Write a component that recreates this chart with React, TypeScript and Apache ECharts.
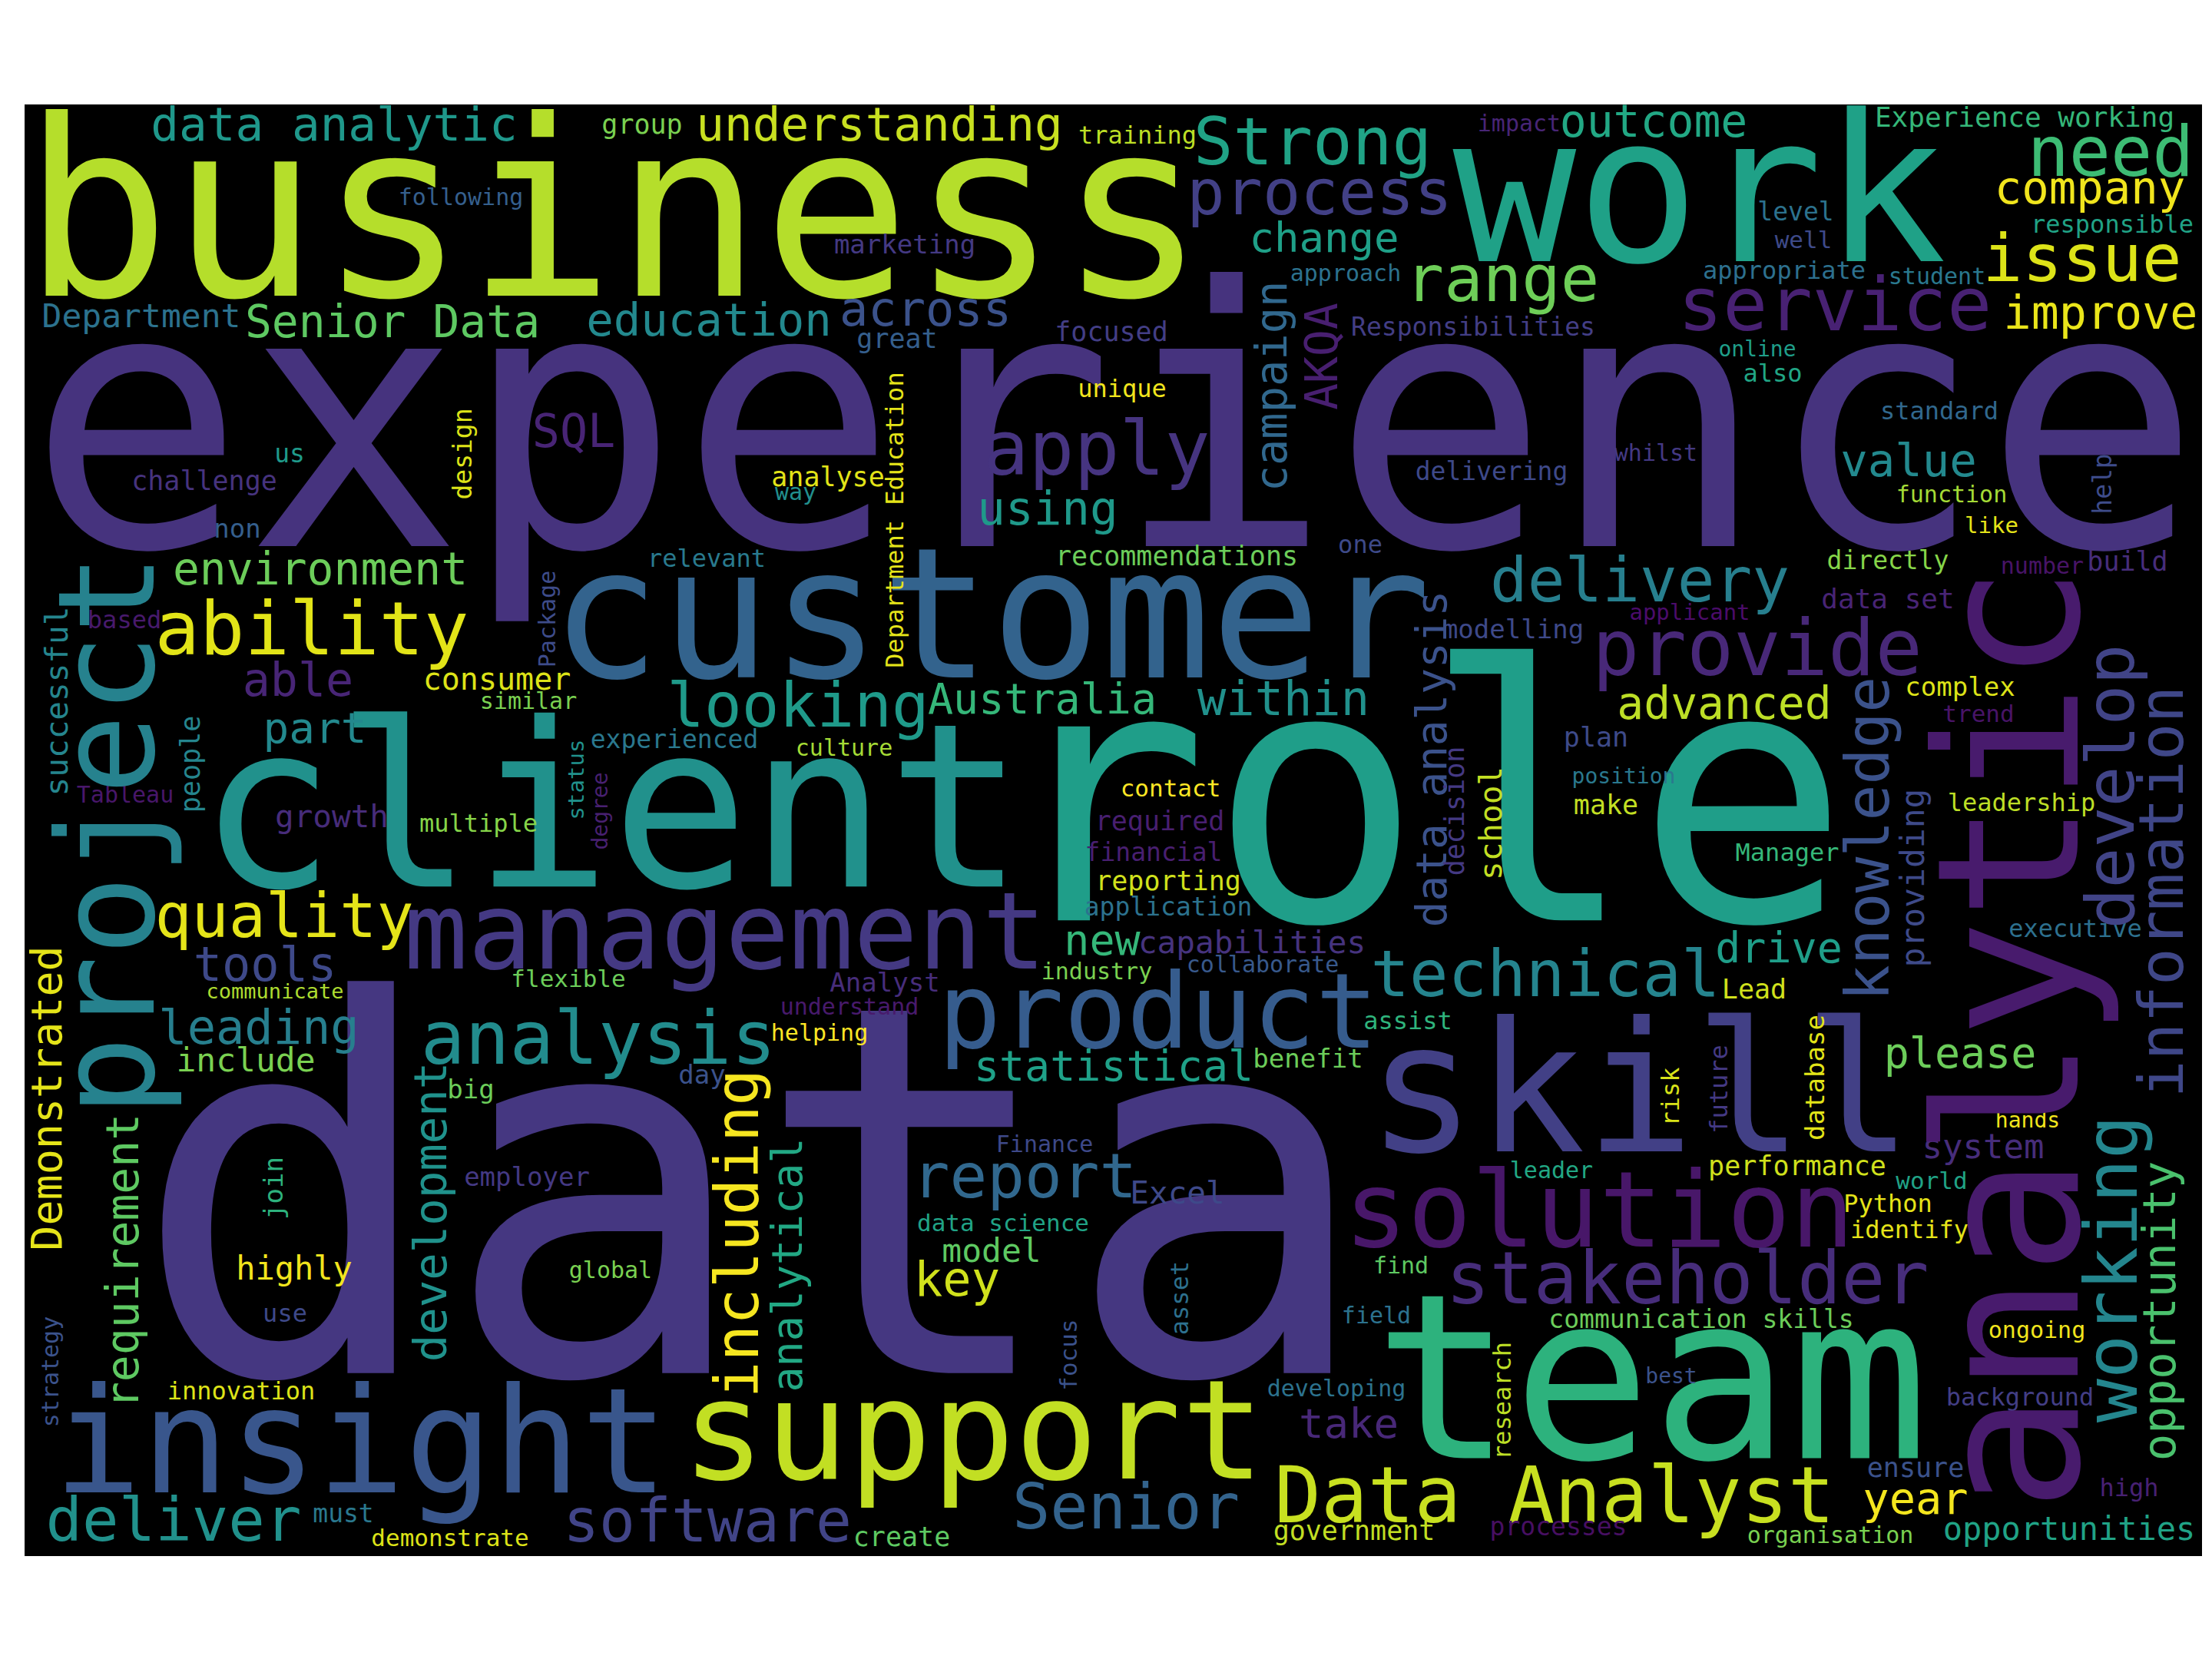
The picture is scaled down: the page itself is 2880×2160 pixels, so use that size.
import React, { useEffect, useRef } from 'react';
import * as echarts from 'echarts';

// [text, x, y, size, colour] in image pixels.
// Horizontal words: x = centre, y = baseline. Vertical words: x = baseline, y = centre.
type Word = [string, number, number, number, string];

const headlineWords: Word[] = [
  ['experience', 1451, 713, 470, '#46337e'],
  ['data', 980, 1790, 672, '#453781'],
  ['role', 1852, 1200, 462, '#1f9e89'],
  ['business', 800, 386, 320, '#b5de2b'],
  ['client', 796, 1155, 298, '#21918c'],
  ['team', 2150, 1900, 300, '#2db27d'],
  ['work', 2213, 341, 267, '#1fa187'],
  ['skill', 2135, 1500, 236, '#424086'],
  ['customer', 1290, 883, 238, '#33638d'],
  ['insight', 470, 1944, 190, '#39568c'],
  ['support', 1267, 1925, 180, '#c2df23'],
  ['management', 944, 1262, 139, '#443983'],
  ['solution', 2082, 1624, 138, '#481769'],
  ['product', 1508, 1365, 136, '#365c8d'],
];

const largeWords: Word[] = [
  ['Data Analyst', 2024, 1982, 101, '#c8e020'],
  ['provide', 2288, 879, 102, '#482878'],
  ['ability', 406, 852, 97, '#e2e418'],
  ['apply', 1428, 618, 98, '#463480'],
  ['service', 2389, 430, 97, '#482173'],
  ['analysis', 779, 1386, 96, '#228c8d'],
  ['stakeholder', 2197, 1697, 95, '#472d7b'],
  ['need', 2748, 229, 90, '#3dbc74'],
  ['issue', 2711, 366, 86, '#dde318'],
  ['Strong', 1709, 214, 86, '#20a386'],
  ['range', 1956, 392, 84, '#6ece58'],
  ['technical', 2012, 1297, 84, '#25848e'],
  ['process', 1718, 279, 82, '#424086'],
  ['Senior', 1466, 1990, 82, '#33638d'],
  ['looking', 1039, 946, 81, '#1f9a8a'],
  ['delivery', 2135, 783, 81, '#277f8e'],
  ['report', 1334, 1559, 81, '#31688e'],
  ['quality', 370, 1220, 80, '#e5e419'],
  ['deliver', 226, 2007, 79, '#21918c'],
  ['software', 921, 2007, 78, '#414487'],
];

const mediumWords: Word[] = [
  ['data analytic', 435, 183, 61, '#1f988b'],
  ['understanding', 1145, 183, 61, '#c8e020'],
  ['across', 1205, 424, 62, '#3b528b'],
  ['education', 923, 437, 59, '#23898e'],
  ['Senior Data', 511, 439, 58, '#5ec962'],
  ['environment', 417, 761, 58, '#6ccd5a'],
  ['using', 1364, 683, 61, '#1f998a'],
  ['SQL', 747, 582, 60, '#482475'],
  ['able', 388, 906, 60, '#482576'],
  ['part', 410, 967, 56, '#23898e'],
  ['tools', 345, 1277, 62, '#3e4989'],
  ['leading', 337, 1359, 62, '#277f8e'],
  ['within', 1671, 931, 62, '#21918c'],
  ['key', 1246, 1687, 62, '#d0e11c'],
  ['company', 2721, 265, 59, '#f1e51d'],
  ['improve', 2735, 428, 60, '#eae51a'],
  ['value', 2485, 620, 59, '#23898e'],
  ['outcome', 2153, 178, 58, '#22a884'],
  ['advanced', 2245, 936, 58, '#bddf26'],
  ['year', 2494, 1971, 57, '#f4e61e'],
  ['Australia', 1357, 929, 55, '#35b779'],
  ['statistical', 1450, 1407, 55, '#1fa188'],
  ['new', 1435, 1243, 55, '#35b779'],
  ['drive', 2316, 1253, 55, '#1f9e89'],
  ['please', 2552, 1390, 55, '#6ccd5a'],
  ['change', 1724, 328, 54, '#1fa088'],
  ['take', 1756, 1872, 54, '#482878'],
  ['Department', 184, 426, 43, '#2c728e'],
  ['include', 320, 1395, 43, '#7ad151'],
  ['model', 1291, 1643, 43, '#5ec962'],
  ['system', 2582, 1508, 44, '#472d7b'],
  ['opportunities', 2694, 2005, 42, '#20a386'],
  ['highly', 383, 1666, 42, '#f1e51d'],
  ['Excel', 1533, 1567, 41, '#3e4989'],
  ['growth', 432, 1077, 41, '#472c7a'],
  ['capabilities', 1630, 1241, 41, '#46337e'],
  ['consumer', 647, 898, 40, '#dde318'],
];

const smallWordsTop: Word[] = [
  ['group', 836, 174, 35, '#7ad151'],
  ['training', 1481, 187, 32, '#bddf26'],
  ['impact', 1978, 171, 30, '#482576'],
  ['Experience working', 2636, 165, 36, '#35b779'],
  ['responsible', 2750, 303, 32, '#20a386'],
  ['level', 2338, 287, 33, '#2c728e'],
  ['well', 2348, 323, 31, '#3e4a89'],
  ['appropriate', 2323, 363, 32, '#2d708e'],
  ['student', 2522, 370, 30, '#2a788e'],
  ['online', 2288, 464, 28, '#1f9e89'],
  ['also', 2308, 497, 32, '#21a685'],
  ['standard', 2525, 546, 32, '#31688e'],
  ['function', 2541, 654, 30, '#a5db36'],
  ['like', 2593, 694, 29, '#e5e419'],
  ['directly', 2458, 741, 33, '#86d549'],
  ['number', 2659, 747, 30, '#481467'],
  ['build', 2770, 743, 35, '#472d7b'],
  ['data set', 2458, 792, 36, '#482475'],
  ['applicant', 2200, 807, 29, '#4b0c6b'],
  ['following', 600, 267, 30, '#355f8d'],
  ['marketing', 1178, 330, 34, '#443983'],
  ['great', 1168, 453, 35, '#355f8d'],
  ['focused', 1447, 444, 35, '#433e85'],
  ['approach', 1752, 366, 30, '#2c728e'],
  ['Responsibilities', 1918, 437, 33, '#433e85'],
  ['unique', 1461, 517, 32, '#f1e51d'],
  ['analyse', 1078, 633, 35, '#e2e418'],
  ['way', 1036, 651, 30, '#218f8d'],
  ['relevant', 920, 738, 32, '#297a8e'],
  ['recommendations', 1532, 736, 35, '#6ccd5a'],
  ['one', 1771, 720, 32, '#3e4a89'],
  ['delivering', 1942, 625, 33, '#3e4989'],
  ['whilst', 2156, 600, 30, '#443983'],
  ['us', 377, 602, 33, '#1f9a8a'],
  ['challenge', 266, 638, 35, '#46337e'],
  ['non', 309, 700, 34, '#355f8d'],
  ['based', 162, 818, 32, '#481a6c'],
  ['similar', 688, 923, 30, '#7ad151'],
];

const smallWordsMiddle: Word[] = [
  ['Tableau', 163, 1045, 30, '#48176a'],
  ['multiple', 623, 1083, 32, '#86d549'],
  ['communicate', 358, 1300, 27, '#addc30'],
  ['flexible', 740, 1285, 31, '#6ccd5a'],
  ['experienced', 878, 974, 33, '#2a788e'],
  ['culture', 1099, 984, 30, '#a5db36'],
  ['Analyst', 1152, 1291, 34, '#472d7b'],
  ['understand', 1106, 1321, 30, '#481a6c'],
  ['helping', 1067, 1355, 30, '#fde725'],
  ['contact', 1524, 1037, 31, '#fde725'],
  ['required', 1510, 1081, 35, '#481f70'],
  ['financial', 1502, 1121, 33, '#481f70'],
  ['reporting', 1521, 1159, 35, '#d0e11c'],
  ['application', 1521, 1192, 33, '#2c728e'],
  ['industry', 1428, 1275, 30, '#7ad151'],
  ['collaborate', 1644, 1266, 30, '#38598c'],
  ['assist', 1833, 1340, 32, '#2fb47c'],
  ['benefit', 1703, 1390, 34, '#6ccd5a'],
  ['modelling', 1970, 831, 34, '#3e4989'],
  ['plan', 2078, 972, 35, '#3e4a89'],
  ['position', 2114, 1020, 28, '#2a788e'],
  ['make', 2091, 1060, 35, '#c2df23'],
  ['complex', 2552, 906, 34, '#dde318'],
  ['trend', 2576, 940, 31, '#481467'],
  ['leadership', 2632, 1056, 32, '#bddf26'],
  ['Manager', 2327, 1121, 32, '#35b779'],
  ['executive', 2702, 1220, 32, '#2d708e'],
  ['Lead', 2284, 1300, 35, '#d0e11c'],
];

const smallWordsBottom: Word[] = [
  ['big', 613, 1430, 34, '#6ccd5a'],
  ['day', 914, 1411, 34, '#3b528b'],
  ['employer', 686, 1544, 34, '#443983'],
  ['global', 795, 1664, 30, '#7ad151'],
  ['use', 371, 1721, 32, '#3e4989'],
  ['innovation', 314, 1822, 32, '#dde318'],
  ['must', 447, 1982, 33, '#2a788e'],
  ['demonstrate', 586, 2013, 31, '#dde318'],
  ['create', 1174, 2013, 35, '#5ec962'],
  ['Finance', 1360, 1500, 30, '#3e4989'],
  ['data science', 1306, 1603, 31, '#20a386'],
  ['developing', 1740, 1818, 30, '#2c728e'],
  ['government', 1763, 2005, 35, '#c2df23'],
  ['processes', 2029, 1999, 33, '#470f62'],
  ['field', 1792, 1723, 30, '#2c728e'],
  ['find', 1824, 1658, 30, '#5ec962'],
  ['leader', 2020, 1534, 30, '#22a884'],
  ['communication skills', 2215, 1729, 33, '#6ccd5a'],
  ['best', 2176, 1801, 28, '#3b528b'],
  ['ensure', 2494, 1923, 35, '#3b528b'],
  ['organisation', 2383, 2009, 30, '#7ad151'],
  ['high', 2772, 1948, 32, '#482173'],
  ['background', 2630, 1830, 32, '#433e85'],
  ['ongoing', 2652, 1742, 30, '#f1e51d'],
  ['hands', 2640, 1468, 28, '#f1e51d'],
  ['performance', 2340, 1530, 35, '#d0e11c'],
  ['world', 2515, 1548, 31, '#20a386'],
  ['Python', 2458, 1578, 32, '#e5e419'],
  ['identify', 2486, 1612, 32, '#e5e419'],
];

const verticalWords: Word[] = [
  ['analytic', 2706, 1352, 256, '#481b6d'],
  ['project', 200, 1087, 174, '#26828e'],
  ['working', 2782, 1652, 95, '#24868e'],
  ['develop', 2778, 1024, 88, '#414487'],
  ['information', 2842, 1161, 81, '#3f4788'],
  ['knowledge', 2459, 1092, 78, '#3b528b'],
  ['including', 988, 1606, 79, '#f6e620'],
  ['opportunity', 2832, 1707, 59, '#4ac16d'],
  ['requirement', 180, 1642, 58, '#5ec962'],
  ['development', 581, 1578, 59, '#20928c'],
  ['Demonstrated', 80, 1430, 55, '#e5e419'],
  ['campaign', 1675, 503, 57, '#31688e'],
  ['AKQA', 1741, 464, 58, '#481f70'],
  ['data analysis', 1883, 988, 56, '#3b528b'],
  ['analytical', 1044, 1647, 55, '#22a884'],
  ['providing', 2505, 1143, 43, '#3e4a89'],
  ['successful', 88, 913, 41, '#25858e'],
  ['school', 1955, 1072, 41, '#c2df23'],
  ['decision', 1906, 1056, 35, '#443983'],
  ['people', 260, 995, 35, '#25858e'],
  ['join', 368, 1547, 34, '#2db27d'],
  ['design', 614, 591, 33, '#dde318'],
  ['Department Education', 1176, 677, 32, '#e5e419'],
  ['database', 2375, 1403, 34, '#e2e418'],
  ['research', 1967, 1824, 32, '#bddf26'],
  ['asset', 1547, 1690, 32, '#2d708e'],
  ['focus', 1402, 1764, 31, '#3b528b'],
  ['risk', 2186, 1428, 32, '#d8e219'],
  ['future', 2249, 1418, 32, '#443983'],
  ['help', 2749, 630, 33, '#3e4c8a'],
  ['strategy', 76, 1786, 30, '#3b528b'],
  ['Package', 723, 806, 30, '#3e4c8a'],
  ['status', 760, 1015, 29, '#21918c'],
  ['degree', 791, 1056, 28, '#482071'],
];

const FONT = "'DejaVu Sans Mono', 'Liberation Mono', monospace";
// distance from the alphabetic baseline up to the central baseline, in em
const CENTRAL = 0.35;

const toItem = (w: Word, vertical: boolean) => {
  const [text, a, b, size, color] = w;
  return {
    name: text,
    value: vertical ? [a - CENTRAL * size, b] : [a, b - CENTRAL * size],
    label: { fontSize: size, lineHeight: size, color, opacity: 1, rotate: vertical ? 90 : 0 },
  };
};

const App: React.FC = () => {
  const chartRef = useRef<HTMLDivElement>(null);

  useEffect(() => {
    if (!chartRef.current) return;
    const chart = echarts.init(chartRef.current, undefined, { renderer: 'svg' });

    const horizontal = [
      ...headlineWords,
      ...largeWords,
      ...mediumWords,
      ...smallWordsTop,
      ...smallWordsMiddle,
      ...smallWordsBottom,
    ];

    chart.setOption({
      animation: false,
      backgroundColor: '#ffffff',
      grid: {
        left: 32,
        right: 13,
        top: 136,
        bottom: 134,
        show: true,
        backgroundColor: '#000000',
        borderWidth: 0,
      },
      xAxis: { type: 'value', min: 32, max: 2867, show: false },
      yAxis: { type: 'value', min: 136, max: 2026, inverse: true, show: false },
      series: [
        {
          type: 'scatter',
          symbolSize: 1,
          silent: true,
          clip: false,
          itemStyle: { color: 'rgba(0,0,0,0)', opacity: 1 },
          label: {
            show: true,
            position: 'inside',
            formatter: '{b}',
            fontFamily: FONT,
            fontWeight: 'normal',
            align: 'center',
            verticalAlign: 'middle',
            textBorderWidth: 0,
            opacity: 1,
          },
          data: [
            ...horizontal.map((w) => toItem(w, false)),
            ...verticalWords.map((w) => toItem(w, true)),
          ],
        },
      ],
    });

    return () => chart.dispose();
  }, []);

  return (
    <>
      <style>{'body{margin:0}'}</style>
      <div ref={chartRef} style={{ width: 2880, height: 2160 }} />
    </>
  );
};

export default App;
